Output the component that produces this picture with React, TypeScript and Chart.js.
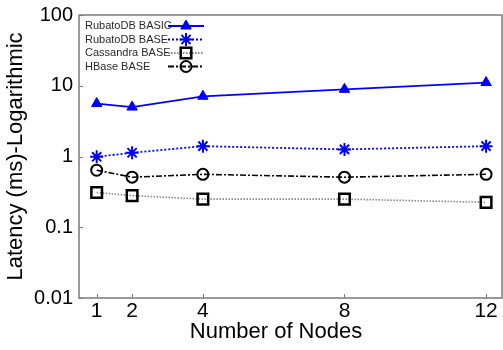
import React, { useEffect, useRef } from "react";
import { Chart, registerables } from "chart.js";
import { drawPoint } from "chart.js/helpers";

Chart.register(...registerables);

const nodes = [1, 2, 4, 8, 12];
const rubatoBasic = [5.6, 5.0, 7.1, 8.9, 11.1];
const rubatoBase = [0.99, 1.13, 1.4, 1.26, 1.4];
const cassandraBase = [0.31, 0.28, 0.25, 0.25, 0.225];
const hbaseBase = [0.64, 0.51, 0.56, 0.51, 0.56];
const yTicks = [0.01, 0.1, 1, 10, 100];
const seriesNames = ["RubatoDB BASIC", "RubatoDB BASE", "Cassandra BASE", "HBase BASE"];

const FONT = '"Liberation Sans", Arial, sans-serif';

const toPts = (vals: number[]) => vals.map((v, i) => ({ x: nodes[i], y: v }));

const framePlugin = {
  id: "frameAndLegend",
  afterDraw(chart: any) {
    const { ctx, chartArea, scales } = chart;
    const { left, right, top, bottom } = chartArea;
    ctx.save();
    // frame
    ctx.strokeStyle = "#7a7a7a";
    ctx.lineWidth = 1.5;
    ctx.setLineDash([]);
    ctx.strokeRect(left, top, right - left, bottom - top);
    // inward ticks
    ctx.lineWidth = 1;
    ctx.beginPath();
    yTicks.forEach((v) => {
      const y = Math.round(scales.y.getPixelForValue(v)) + 0.5;
      ctx.moveTo(left, y);
      ctx.lineTo(left + 4, y);
    });
    nodes.forEach((v) => {
      const x = Math.round(scales.x.getPixelForValue(v)) + 0.5;
      ctx.moveTo(x, bottom);
      ctx.lineTo(x, bottom - 4);
    });
    ctx.stroke();

    // x title
    ctx.fillStyle = "#000";
    ctx.font = `22px ${FONT}`;
    ctx.textAlign = "center";
    ctx.textBaseline = "alphabetic";
    ctx.fillText("Number of Nodes", 276, 338);

    // legend
    const rows = [26, 39.5, 53, 66.5];
    ctx.font = `11px ${FONT}`;
    ctx.textAlign = "left";
    ctx.textBaseline = "middle";
    chart.data.datasets.forEach((ds: any, i: number) => {
      const y = rows[i];
      ctx.fillStyle = "#2a2a2a";
      ctx.fillText(seriesNames[i], 85, y);
      ctx.save();
      ctx.strokeStyle = ds.borderColor;
      ctx.lineWidth = 2;
      ctx.setLineDash(ds.borderDash || []);
      ctx.beginPath();
      ctx.moveTo(168, y);
      ctx.lineTo(204, y);
      ctx.stroke();
      ctx.setLineDash([]);
      ctx.fillStyle = ds.pointBackgroundColor;
      ctx.strokeStyle = ds.pointBorderColor;
      ctx.lineWidth = ds.pointBorderWidth;
      drawPoint(ctx, { pointStyle: ds.pointStyle, rotation: 0, radius: ds.pointRadius, borderWidth: ds.pointBorderWidth } as any, 186, y);
      ctx.restore();
    });
    ctx.restore();
  },
};

export default function App() {
  const ref = useRef<HTMLCanvasElement>(null);
  useEffect(() => {
    if (!ref.current) return;
    const chart = new Chart(ref.current, {
      type: "line",
      data: {
        datasets: [
          {
            label: seriesNames[0],
            data: toPts(rubatoBasic),
            borderColor: "#0000ff",
            borderWidth: 1.8,
            pointStyle: "triangle",
            pointRadius: 6,
            pointBackgroundColor: "#0000ff",
            pointBorderColor: "#0000ff",
            pointBorderWidth: 1,
          },
          {
            label: seriesNames[1],
            data: toPts(rubatoBase),
            borderColor: "#0000ff",
            borderWidth: 1.8,
            borderDash: [2, 2],
            pointStyle: "star",
            pointRadius: 6.5,
            pointBackgroundColor: "rgba(0,0,0,0)",
            pointBorderColor: "#0000ff",
            pointBorderWidth: 2,
          },
          {
            label: seriesNames[2],
            data: toPts(cassandraBase),
            borderColor: "#8a8a8a",
            borderWidth: 1.6,
            borderDash: [1.5, 1.5],
            pointStyle: "rect",
            pointRadius: 7.5,
            pointBackgroundColor: "rgba(0,0,0,0)",
            pointBorderColor: "#000",
            pointBorderWidth: 2.5,
          },
          {
            label: seriesNames[3],
            data: toPts(hbaseBase),
            borderColor: "#000",
            borderWidth: 1.6,
            borderDash: [6, 2, 2, 2],
            pointStyle: "circle",
            pointRadius: 5.5,
            pointBackgroundColor: "rgba(0,0,0,0)",
            pointBorderColor: "#000",
            pointBorderWidth: 2,
          },
        ] as any,
      },
      options: {
        animation: false,
        responsive: false,
        layout: { autoPadding: false, padding: { top: 15, right: 1, left: 0, bottom: 0 } },
        plugins: { legend: { display: false }, tooltip: { enabled: false } },
        scales: {
          x: {
            type: "linear",
            min: 0.5,
            max: 12.45,
            grid: { display: false, drawTicks: false, tickLength: 0 },
            border: { display: false },
            afterBuildTicks: (s: any) => {
              s.ticks = nodes.map((v) => ({ value: v }));
            },
            afterFit: (s: any) => {
              s.height = 52;
              s.paddingLeft = 0;
              s.paddingRight = 0;
            },
            ticks: {
              padding: 1,
              color: "#000",
              font: { family: FONT, size: 21 },
              maxRotation: 0,
              autoSkip: false,
              callback: (v: any) => String(v),
            },
          },
          y: {
            type: "logarithmic",
            min: 0.01,
            max: 100,
            grid: { display: false, drawTicks: false, tickLength: 0 },
            border: { display: false },
            afterBuildTicks: (s: any) => {
              s.ticks = yTicks.map((v) => ({ value: v }));
            },
            afterFit: (s: any) => {
              s.width = 79;
              s.paddingTop = 0;
              s.paddingBottom = 0;
            },
            title: {
              display: true,
              text: "Latency (ms)-Logarithmic",
              color: "#000",
              font: { family: FONT, size: 22 },
              padding: { top: 3, bottom: 0 },
            },
            ticks: {
              padding: 6,
              color: "#000",
              font: { family: FONT, size: 20 },
              autoSkip: false,
              callback: (v: any) => String(v),
            },
          },
        },
      },
      plugins: [framePlugin],
    });
    return () => chart.destroy();
  }, []);
  return (
    <div style={{ position: "absolute", left: 0, top: 0, width: 503, height: 350, background: "#fff" }}>
      <canvas ref={ref} width={503} height={350} style={{ display: "block" }} />
    </div>
  );
}
